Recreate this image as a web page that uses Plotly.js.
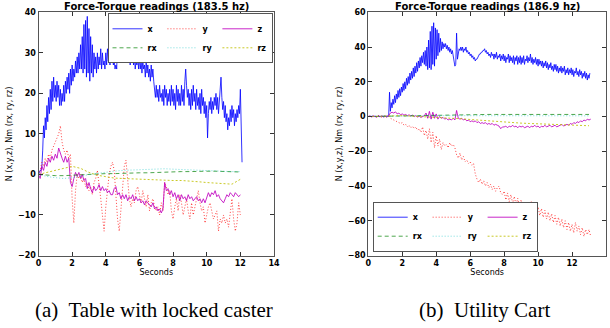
<!DOCTYPE html>
<html>
<head>
<meta charset="utf-8">
<script src="https://cdn.plot.ly/plotly-3.0.1.min.js"></script>
<style>html,body{margin:0;padding:0;background:#fff}#chart{width:610px;height:328px}</style>
</head>
<body>
<div id="chart"></div>
<script>
// ---------- data ----------
const titles = ["Force-Torque readings (183.5 hz)", "Force-Torque readings (186.9 hz)"];
const captions = ["(a)\u00a0 Table with locked caster", "(b)\u00a0 Utility Cart"];
const seriesNames = ["x", "y", "z", "rx", "ry", "rz"];
const xLabel = "Seconds";
const yLabel = "N (x,y,z), Nm (rx, ry, rz)";
const xTicks = [0, 2, 4, 6, 8, 10, 12, 14];
const tableYTicks = [-20, -10, 0, 10, 20, 30, 40];
const cartYTicks = [-80, -60, -40, -20, 0, 20, 40, 60];

// sampling steps (seconds) of the stored readings
const stepForce = 0.05, stepMid = 0.1, stepTorque = 0.5;

// (a) Table with locked caster
const tableX = [
 0,0.5,1,1,2,6,12,9,14,11, 17,13,19,15,21,16,23,18,24,19,
 22,18,23,19,22,17,21,17,20,18, 22,18,23,20,24,21,25,20,26,22,
 27,23,26,24,28,25,29,25,30,26, 32,26,34,25,37,26,38,24,39,25,
 36,23,34,25,32,24,30,26,29,25, 30,26,29,27,31,26,30,27,28,26,
 30,27,31,28,29,27,31,28,29,27, 28,26,27,26,35,33,34,32,33,31,
 34,31,33,30,32,29,31,28,30,27, 31,28,30,27,29,26,28,27,29,26,
 29,26,28,25,28,26,27,24,28,25, 27,24,26,23,27,24,26,23,21,19,
 22,19,21,18,22,19,20,18,21,17, 22,19,21,17,20,18,21,17,22,18,
 21,17,20,16,22,18,21,17,20,17, 22,18,21,17,23,26,22,19,21,17,
 20,16,21,17,22,18,20,16,21,17, 19,16,20,15,21,17,19,15,18,14,
 17,9,15,18,16,19,15,18,16,19, 17,20,16,19,15,18,20,24,19,16,
 18,14,17,13,15,11,14,12,16,13, 17,14,16,12,15,13,16,14,17,15,
 21,7,3];
const tableY = [
 0,1,3,2,4,3,5,4,6,7, 8,9,10,12,8,6,5,6,4,5,
 -6,-12,-4,0,-1,0,-2,-1,-3,-2, -4,-3,-5,-2,-1,1,-2,-6,-10,-14,
 -8,-3,0,2,3,1,-5,-11,-14,-8, -2,2,3.5,-1,-6,-8,-6,-7,-4,-3,
 -5,-7,-4,-6,-8,-5,-9,-7,-6,-8, -9,-8,-10,-7,-9,-2,-3,-5,-4,-9,
 -11,-8,-6,-9,-5,-7,-10,-8,-6,-9, -11,-7,-10,-8,-6,-4,-7,-9,-8,-12,
 -10,-8,-7,-9,-11,-10,-9,-14,-11,-12, -10,-12,-11,-13,-9,-6,-11,-14,-12,-7,
 -10];
const tableZ = [
 0,-1,2,1,3,2,4,3,4.5,3.5, 5,4,6.5,5,4,3,4.5,3,4,-2,
 -3,-1,0.5,-0.5,0.5,-1,0,-1.5,-1,-3.5, -2,-3.5,-4.5,-3,-4,-3.5,-2.5,-4,-3,-4,
 -3.5,-4.5,-4,-5,-5,-3.5,-3,-5,-4.5,-6, -5,-6,-5,-6.5,-5.5,-6,-5,-6.5,-5.5,-6.5,
 -6,-7,-6.5,-7.5,-6.5,-7,-7.5,-8,-7,-8.5, -8,-9,-8.5,-9.5,-8.5,-2,-4,-3.5,-5,-4,
 -5.5,-4.5,-6,-5,-6.5,-5,-6,-5.5,-6.5,-5, -6,-5.5,-6.5,-6,-5.5,-6.5,-6,-7,-6,-7,
 -5.5,-4.5,-5.5,-4.5,-5,-4,-5.5,-5,-6,-6.5, -7,-6,-5,-5.5,-4.5,-5,-5.5,-4.5,-5,-5.5,
 -5];
const tableRX = [0,-0.2,-0.3,-0.3,-0.2,0,0,0.1,0.2,0.2,0.3,0.3,0.4,0.4,0.5,0.5,0.6,0.7,0.7,0.8,0.8,0.8,0.7,0.6,0.6];
const tableRY = [0,-0.5,-0.8,-1,-0.8,-0.5,0,0.3,0.6,0.8,1,1.1,1.2,1.3,1.4,1.4,1.3,1.2,1.1,1,0.9,0.8,0.8,0.7,0.7];
const tableRZ = [0,0.5,1,1.5,2,1.5,0.5,-0.2,-0.6,-0.9,-1,-1.1,-1.2,-1.2,-1.3,-1.4,-1.5,-1.5,-1.6,-1.8,-2,-2.1,-2.2,-2.4,-1.2];

// (b) Utility Cart
const cartX = [
 0,0.3,-0.2,0.2,0,0.4,-0.3,0.2,0,0.3, -0.2,0.1,0.3,0,-0.2,0.4,0,0.2,-0.1,0.3,
 0,0.2,-0.2,0.3,0,14,3,8,5,10, 7,12,8,13,10,15,11,16,12,17,
 14,19,15,20,16,22,18,23,19,25, 21,26,22,28,23,29,25,31,26,32,
 28,34,29,35,31,37,30,38,29,40, 27,44,28,49,27,52,30,54,29,51,
 33,50,35,48,37,45,38,43,39,42, 40,42,39,41,38,40,37,39,36,38,
 35,33,29,30,48,33,37,39,38,40, 38,40,37,39,38,40,37,38,36,37,
 35,36,34,35,33,34,32,33,33,34, 35,36,36,37,37,38,38,39,37,38,
 36,37,35,36,34,37,35,36,33,36, 34,37,33,35,34,36,32,35,33,36,
 32,35,31,34,33,36,31,35,32,34, 31,35,30,34,32,35,30,34,31,35,
 30,34,31,35,30,33,32,35,31,34, 32,36,31,34,30,33,31,34,30,33,
 29,33,30,32,29,32,28,31,29,32, 28,31,27,30,28,31,27,29,26,30,
 27,30,26,29,25,28,26,29,25,28, 26,29,24,27,25,28,24,27,25,28,
 24,27,23,26,25,28,24,26,23,27, 24,26,22,25,23,26,22,25,21,24,
 22,25];
const cartY = [
 0,0.5,-0.5,0.3,0,-0.3,0.5,0,-0.4,0.2, 0,-0.5,0.3,-1,-1.5,-2,-2.5,-3,-3.5,-4,
 -3.5,-5,-4.5,-6,-5,-6.5,-5.5,-7,-6,-8, -7,-9,-6,-11,-8,-13,-7,-15,-9,-18,
 -11,-17,-13,-19,-15,-17,-16,-18,-15,-17, -16,-18,-22,-24,-21,-25,-23,-26,-25,-27,
 -26,-28,-27,-33,-36,-38,-36,-39,-37,-40, -38,-41,-39,-42,-40,-43,-41,-40,-44,-45,
 -43,-48,-44,-49,-45,-50,-46,-51,-47,-52, -48,-53,-49,-54,-50,-53,-49,-55,-51,-56,
 -52,-57,-53,-58,-54,-59,-55,-60,-56,-61, -57,-62,-58,-63,-59,-64,-60,-65,-61,-66,
 -62,-67,-61,-66,-63,-68,-64,-69,-65,-68, -65,-69];
const cartZ = [
 0,0.3,-0.2,0.2,0,-0.3,0.3,0,0.2,-0.2, 0,0.3,0.5,2,2.5,2,2.7,1.5,2,1,
 1.5,0.8,1.2,0.5,1,0.3,0.8,0,0.5,-0.3, 0.2,-0.5,0,0.5,2,-1,3,-1.5,2.5,-1,
 1.5,-1.5,0,-1,-0.5,-1.5,-1,-2,-1.5,-2, -1,-2,3.5,-1,-1.5,-1,-2,-1.5,-2.5,-2,
 -3,-2.5,-3,-2.5,-3.5,-3,-4,-3.5,-4,-3.5, -4.5,-4,-4.5,-4,-5,-4.5,-5,-5.5,-7,-6,
 -6,-5.5,-6.5,-5.5,-6,-5,-6,-5.5,-6.5,-5.5, -6,-5.5,-6.5,-6,-5.5,-6.5,-5.5,-6,-5,-6,
 -5.5,-6.5,-5.5,-6,-5,-6,-5.5,-5,-6,-5.5, -5,-6,-5.5,-5,-4.5,-5.5,-5,-4.5,-5,-4,
 -4.5,-3.5,-4,-3,-3.5,-2.5,-3,-2,-2.5,-1.5, -2,-1.5];
const cartRX = [0,0.1,0.2,0.4,0.5,0.6,0.7,0.8,0.9,1,1,1.1,1.1,1.1,1.2,1.2,1.2,1.2,1.2,1.2,1.2,1.2,1.2,1.2,1.2,1.2,1.2];
const cartRY = [0,0,0.1,0.2,0.3,0.3,0.4,0.4,0.5,0.5,0.5,0.5,0.6,0.6,0.6,0.6,0.6,0.5,0.5,0.5,0.5,0.5,0.4,0.4,0.4,0.4,0.4];
const cartRZ = [0,0,0.2,0.4,0.5,0.3,0,-0.3,-0.5,-0.8,-1,-1.3,-1.7,-2.1,-2.5,-2.9,-3.2,-3.5,-3.8,-4,-4.2,-4.4,-4.6,-4.8,-5,-5.2,-5.3];

// ---------- helpers ----------
function timeGrid(values, step) { return values.map((_, i) => Math.round(i * step * 1000) / 1000); }

const styles = {
  x:  {color: "rgba(0,0,255,0.8)",   dash: "solid",   group: "g1"},
  y:  {color: "rgba(255,0,0,0.75)",  dash: "1px,2px", group: "g2"},
  z:  {color: "rgba(191,0,191,0.85)",dash: "solid",   group: "g3"},
  rx: {color: "rgba(0,128,0,0.7)",   dash: "4px,3px", group: "g1"},
  ry: {color: "rgba(0,191,191,0.55)",dash: "1px,2px", group: "g2"},
  rz: {color: "rgba(191,191,0,0.85)",dash: "2px,2px", group: "g3"}
};

function makeTraces(sets, xa, ya, legendId) {
  const order = ["x", "y", "z", "rx", "ry", "rz"];
  return order.map(name => {
    const s = sets[name];
    const st = styles[name];
    return {
      type: "scatter", mode: "lines", name: name,
      x: timeGrid(s.v, s.step), y: s.v,
      xaxis: xa, yaxis: ya, legend: legendId, legendgroup: st.group + legendId,
      line: {color: st.color, width: 1, dash: st.dash},
      hoverinfo: "skip"
    };
  });
}

const traces = [].concat(
  makeTraces({x:{v:tableX,step:stepForce}, y:{v:tableY,step:stepMid}, z:{v:tableZ,step:stepMid},
              rx:{v:tableRX,step:stepTorque}, ry:{v:tableRY,step:stepTorque}, rz:{v:tableRZ,step:stepTorque}},
             "x", "y", "legend"),
  makeTraces({x:{v:cartX,step:stepForce}, y:{v:cartY,step:stepMid}, z:{v:cartZ,step:stepMid},
              rx:{v:cartRX,step:stepTorque}, ry:{v:cartRY,step:stepTorque}, rz:{v:cartRZ,step:stepTorque}},
             "x2", "y2", "legend2")
);

const W = 610, H = 328;
const tickFont = {family: "DejaVu Sans", size: 8, color: "#000", weight: "bold"};
const labelFont = {family: "DejaVu Sans", size: 8, color: "#000"};

function xAxis(domain, anchor) {
  return {
    domain: domain, anchor: anchor, range: [0, 14], tickvals: xTicks, ticktext: xTicks.map(String),
    ticks: "inside", ticklen: 4, tickcolor: "#333", showline: true, linecolor: "#555", linewidth: 1,
    mirror: "ticks", showgrid: false, zeroline: false, tickfont: tickFont,
    title: {text: xLabel, font: labelFont, standoff: 1}
  };
}
function yAxis(domain, anchor, range, ticks) {
  return {
    domain: domain, anchor: anchor, range: range, tickvals: ticks,
    ticks: "inside", ticklen: 4, tickcolor: "#333", showline: true, linecolor: "#555", linewidth: 1,
    mirror: "ticks", showgrid: false, zeroline: false, tickfont: tickFont,
    title: {text: yLabel, font: labelFont, standoff: 4}
  };
}

const yDom = [1 - 255.5 / H, 1 - 12.3 / H];
const legendCommon = {
  orientation: "h", bgcolor: "#fff", bordercolor: "#555", borderwidth: 1, itemwidth: 30,
  font: {family: "DejaVu Sans", size: 8, weight: "bold"}, tracegroupgap: 0, itemclick: false
};
const captionFont = {family: "Liberation Serif", size: 21, color: "#000"};
const titleFont = {family: "DejaVu Sans", size: 10, weight: "bold", color: "#000"};

const layout = {
  width: W, height: H,
  margin: {l: 0, r: 0, t: 0, b: 0},
  paper_bgcolor: "#fff", plot_bgcolor: "#fff",
  font: {family: "DejaVu Sans", size: 8, color: "#000"},
  showlegend: true,
  xaxis: xAxis([38.5 / W, 274 / W], "y"),
  yaxis: yAxis(yDom, "x", [-20, 40], tableYTicks),
  xaxis2: xAxis([368.3 / W, 606 / W], "y2"),
  yaxis2: yAxis(yDom, "x2", [-80, 60], cartYTicks),
  legend: Object.assign({}, legendCommon, {x: 272.5 / W, xanchor: "right", y: 1 - 13.3 / H, yanchor: "top"}),
  legend2: Object.assign({}, legendCommon, {x: 372.7 / W, xanchor: "left", y: 1 - 251.7 / H, yanchor: "bottom"}),
  annotations: [
    {text: titles[0], xref: "x domain", yref: "y domain", x: 0.5, y: 1, yanchor: "bottom", yshift: -2,
     showarrow: false, font: titleFont},
    {text: titles[1], xref: "x2 domain", yref: "y2 domain", x: 0.5, y: 1, yanchor: "bottom", yshift: -2,
     showarrow: false, font: titleFont},
    {text: captions[0], xref: "x domain", yref: "paper", x: 0.49, y: 1 - 310 / H, yanchor: "middle",
     showarrow: false, font: captionFont},
    {text: captions[1], xref: "x2 domain", yref: "paper", x: 0.49, y: 1 - 310 / H, yanchor: "middle",
     showarrow: false, font: captionFont}
  ]
};

Plotly.newPlot("chart", traces, layout, {staticPlot: true, displayModeBar: false});
</script>
</body>
</html>
